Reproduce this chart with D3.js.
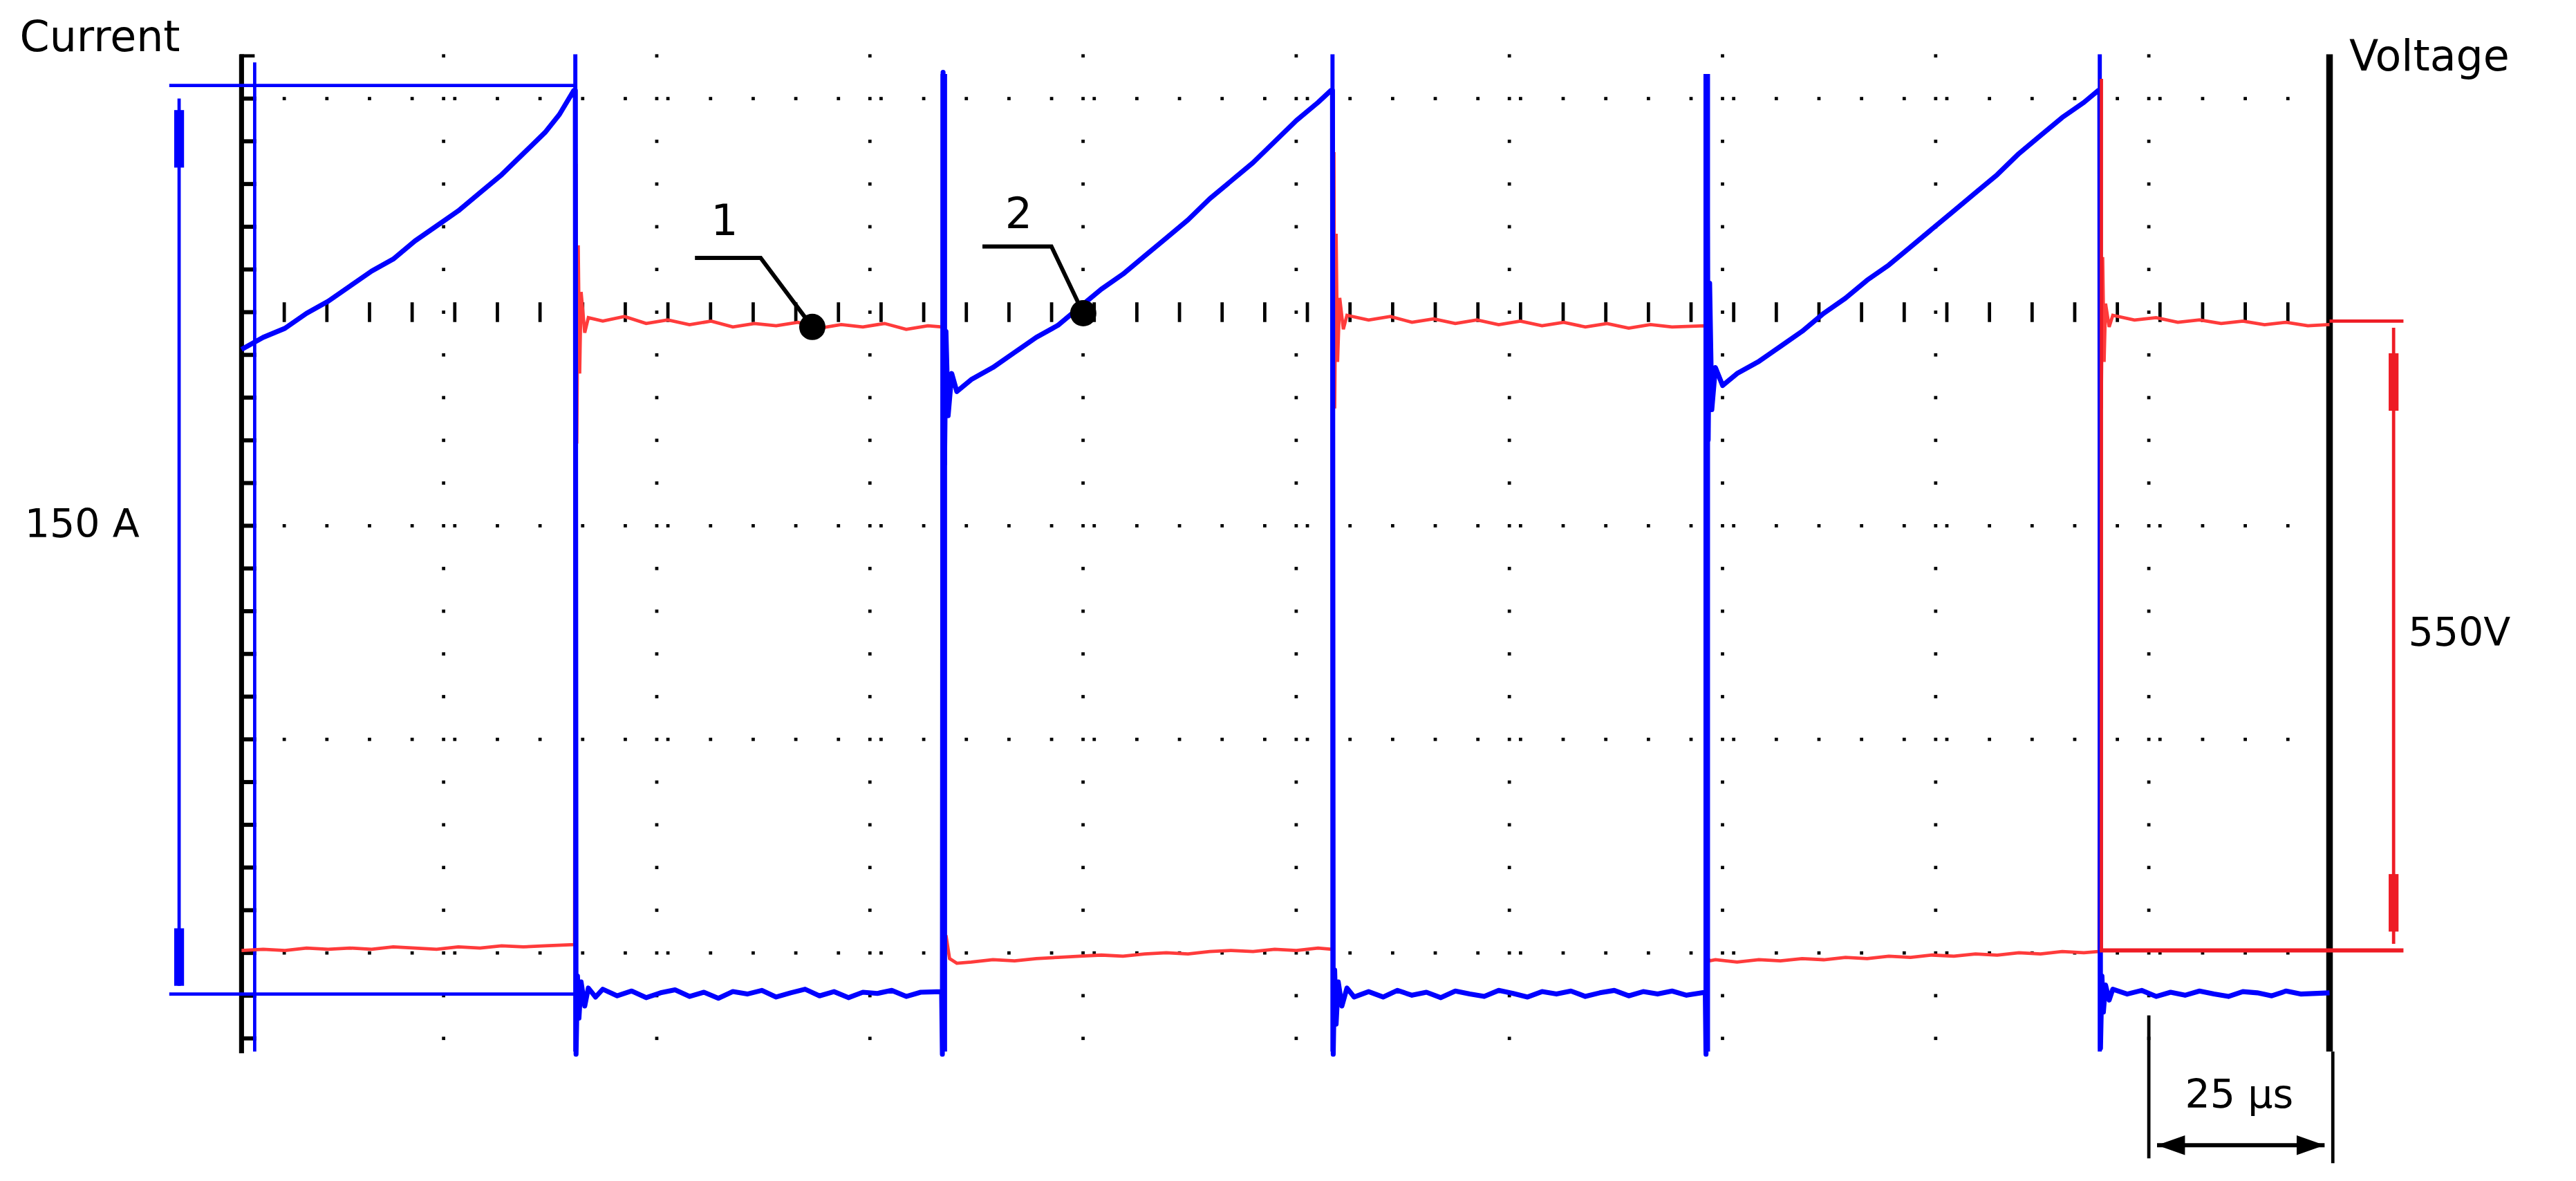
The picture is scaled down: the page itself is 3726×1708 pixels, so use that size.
<!DOCTYPE html>
<html><head><meta charset="utf-8">
<script src="https://cdn.jsdelivr.net/npm/d3@7"></script>
<style>body{margin:0;background:#fff}svg{display:block}text{font-family:"DejaVu Sans",sans-serif}</style>
</head><body>
<svg id="c" width="3726" height="1708" viewBox="0 0 1568 718.8"></svg>
<script>
// time in µs, current in A, voltage in V
const timeDomain = [0, 289];
const currentDomain = [0, 150];
const voltageDomain = [0, 540];
const switchTimes = [46.2, 97.2, 151, 202.8, 257.2];
const current = [
 [0,107],[3,109],[6,110.5],[9,113],[12,115],[15,117.5],[18,120],[21,122],[24,125],[27,127.5],[30,130],[33,133],[36,136],[39,139.5],[42,143],[44,146],[46,150],
 [46.2,150],[46.3,-10],[46.5,3],[46.7,-4],[47,2],[47.5,-2],[48,1],[49,-0.5],[50,0.8],[52,-0.3],[54,0.5],[56,-0.6],[58,0.2],[60,0.7],[62,-0.4],[64,0.3],[66,-0.7],[68,0.4],[70,0],[72,0.6],[74,-0.5],[76,0.2],[78,0.8],[80,-0.3],[82,0.4],[84,-0.6],[86,0.3],[88,0.1],[90,0.6],[92,-0.4],[94,0.3],[96.9,0.4],
 [97,-10],[97.1,153],[97.3,88],[97.5,110],[97.8,96],[98.3,103],[99,100],[101,102],[104,104],[107,106.5],[110,109],[113,111],[116,114],[119,117],[122,119.5],[125,122.5],[128,125.5],[131,128.5],[134,132],[137,135],[140,138],[143,141.5],[146,145],[149,148],[150.8,150],
 [151,150],[151.1,-10],[151.3,4],[151.5,-5],[151.8,2],[152.3,-2],[153,1],[154,-0.5],[156,0.4],[158,-0.5],[160,0.6],[162,-0.2],[164,0.3],[166,-0.6],[168,0.5],[170,0],[172,-0.4],[174,0.6],[176,0.1],[178,-0.5],[180,0.4],[182,0],[184,0.5],[186,-0.4],[188,0.2],[190,0.6],[192,-0.3],[194,0.4],[196,0],[198,0.5],[200,-0.2],[202.6,0.3],
 [202.7,-10],[202.8,150],[203,92],[203.2,118],[203.5,97],[204,104],[205,101],[207,103],[210,105],[213,107.5],[216,110],[219,113],[222,115.5],[225,118.5],[228,121],[231,124],[234,127],[237,130],[240,133],[243,136],[246,139.5],[249,142.5],[252,145.5],[255,148],[257,150],
 [257.2,150],[257.3,-9],[257.5,3],[257.7,-3],[258,1.5],[258.5,-1],[259,0.8],[261,0],[263,0.6],[265,-0.4],[267,0.3],[269,-0.2],[271,0.5],[273,0],[275,-0.4],[277,0.4],[279,0.2],[281,-0.3],[283,0.5],[285,0],[289,0.2]
];
const voltage = [
 [0,5],[3,6],[6,5],[9,7],[12,6],[15,7],[18,6],[21,8],[24,7],[27,6],[30,8],[33,7],[36,9],[39,8],[42,9],[46,10],
 [46.1,10],[46.2,540],[46.3,680],[46.4,440],[46.6,610],[46.8,500],[47,570],[47.5,535],[48,548],[50,545],[53,549],[56,543],[59,546],[62,542],[65,545],[68,540],[71,543],[74,541],[77,544],[80,539],[83,542],[86,540],[89,543],[92,538],[95,541],[97,540],
 [97.1,540],[97.2,0],[97.5,18],[98,-2],[99,-6],[101,-5],[104,-3],[107,-4],[110,-2],[113,-1],[116,0],[119,1],[122,0],[125,2],[128,3],[131,2],[134,4],[137,5],[140,4],[143,6],[146,5],[149,7],[150.9,6],
 [151,6],[151.1,540],[151.2,690],[151.3,470],[151.5,620],[151.7,510],[152,565],[152.5,538],[153,550],[156,546],[159,549],[162,544],[165,547],[168,543],[171,546],[174,542],[177,545],[180,541],[183,544],[186,540],[189,543],[192,539],[195,542],[198,540],[202.6,541],
 [202.7,541],[202.8,0],[203.2,-4],[204,-3],[207,-5],[210,-3],[213,-4],[216,-2],[219,-3],[222,-1],[225,-2],[228,0],[231,-1],[234,1],[237,0],[240,2],[243,1],[246,3],[249,2],[252,4],[255,3],[257,4],
 [257.1,4],[257.2,560],[257.3,690],[257.4,470],[257.6,600],[257.8,510],[258,560],[258.5,540],[259,550],[262,546],[265,548],[268,544],[271,546],[274,543],[277,545],[280,542],[283,544],[286,541],[289,542]
];
const markers = [{label:"1", t:79, v:540}, {label:"2", t:116.5, i:113}];
const texts = {current:"Current", voltage:"Voltage", amp:"150 A", volt:"550V", time:"25 µs"};

const svg = d3.select("#c");
const x = d3.scaleLinear().domain(timeDomain).range([147, 1418]);
const yI = d3.scaleLinear().domain(currentDomain).range([605, 55]);
const yV = d3.scaleLinear().domain(voltageDomain).range([582, 199]);
const BLUE = "#0000ff", RED = "#ff3b3b", RED2 = "#ee1c25";

// grid
const cols = d3.range(0, 9).map(k => 270 + k * 129.75);
const rows = [60, 190, 320, 450, 580];
const g = svg.append("g");
rows.forEach(r => { for (let xx = 147 + 26; xx < 1418; xx += 25.95) if (r !== 190) g.append("rect").attr("x", xx - 1).attr("y", r - 1).attr("width", 2).attr("height", 2); });
cols.forEach(c => { for (let yy = 34; yy < 640; yy += 26) g.append("rect").attr("x", c - 1).attr("y", yy - 1).attr("width", 2).attr("height", 2); });
for (let xx = 147 + 26; xx < 1418; xx += 25.95) g.append("line").attr("x1", xx).attr("x2", xx).attr("y1", 184).attr("y2", 196).attr("stroke", "#000").attr("stroke-width", 2);
// left axis
svg.append("line").attr("x1", 147).attr("x2", 147).attr("y1", 33).attr("y2", 641).attr("stroke", "#000").attr("stroke-width", 3);
svg.append("line").attr("x1", 146).attr("x2", 155).attr("y1", 34).attr("y2", 34).attr("stroke", "#000").attr("stroke-width", 2);
for (let yy = 60; yy < 640; yy += 26) svg.append("line").attr("x1", 147).attr("x2", 156).attr("y1", yy).attr("y2", yy).attr("stroke", "#000").attr("stroke-width", 2.5);
// right voltage axis
svg.append("line").attr("x1", 1418).attr("x2", 1418).attr("y1", 33).attr("y2", 640).attr("stroke", "#000").attr("stroke-width", 4);

// current bracket
svg.append("line").attr("x1", 155).attr("x2", 155).attr("y1", 38).attr("y2", 640).attr("stroke", BLUE).attr("stroke-width", 2);
[yI(150) - 3, yI(0)].forEach(yy => svg.append("line").attr("x1", 103).attr("x2", x(46.2)).attr("y1", yy).attr("y2", yy).attr("stroke", BLUE).attr("stroke-width", 2));
svg.append("line").attr("x1", 109).attr("x2", 109).attr("y1", yI(150) + 5).attr("y2", yI(0) - 5).attr("stroke", BLUE).attr("stroke-width", 2);
svg.append("rect").attr("x", 106).attr("y", 67).attr("width", 6).attr("height", 35).attr("fill", BLUE);
svg.append("rect").attr("x", 106).attr("y", 565).attr("width", 6).attr("height", 35).attr("fill", BLUE);

// signals
const lineI = d3.line().x(d => x(d[0])).y(d => yI(d[1]));
const lineV = d3.line().x(d => x(d[0])).y(d => yV(d[1]));
svg.append("path").attr("d", lineV(voltage)).attr("fill", "none").attr("stroke", RED).attr("stroke-width", 2);
svg.append("path").attr("d", lineI(current)).attr("fill", "none").attr("stroke", BLUE).attr("stroke-width", 3).attr("stroke-linejoin", "round");
switchTimes.forEach((t, k) => svg.append("line").attr("x1", x(t)).attr("x2", x(t)).attr("y1", k % 2 ? 45 : 33).attr("y2", 640).attr("stroke", BLUE).attr("stroke-width", k % 2 ? 4 : 2.5));

// voltage bracket
const vTop = yV(545), vBot = yV(5);
svg.append("line").attr("x1", 1418).attr("x2", 1463).attr("y1", vTop).attr("y2", vTop).attr("stroke", RED2).attr("stroke-width", 2);
svg.append("line").attr("x1", x(257.2)).attr("x2", 1463).attr("y1", vBot).attr("y2", vBot).attr("stroke", RED2).attr("stroke-width", 2.5);
svg.append("line").attr("x1", x(257.2) + 1).attr("x2", x(257.2) + 1).attr("y1", 48).attr("y2", vBot).attr("stroke", RED2).attr("stroke-width", 2);
svg.append("line").attr("x1", 1457).attr("x2", 1457).attr("y1", vTop + 4).attr("y2", vBot - 4).attr("stroke", RED2).attr("stroke-width", 2);
svg.append("rect").attr("x", 1454).attr("y", 215).attr("width", 6).attr("height", 35).attr("fill", RED2);
svg.append("rect").attr("x", 1454).attr("y", 532).attr("width", 6).attr("height", 35).attr("fill", RED2);

// markers
const m1 = [x(markers[0].t), yV(markers[0].v)], m2 = [x(markers[1].t), yI(markers[1].i)];
svg.append("path").attr("d", `M423,157 L463,157 L${m1[0]},${m1[1]}`).attr("fill", "none").attr("stroke", "#000").attr("stroke-width", 2.5);
svg.append("circle").attr("cx", m1[0]).attr("cy", m1[1]).attr("r", 8).attr("fill", "#000");
svg.append("text").attr("x", 441).attr("y", 143).attr("text-anchor", "middle").attr("font-size", 26).text(markers[0].label);
svg.append("path").attr("d", `M598,150 L640,150 L${m2[0]},${m2[1]}`).attr("fill", "none").attr("stroke", "#000").attr("stroke-width", 2.5);
svg.append("circle").attr("cx", m2[0]).attr("cy", m2[1]).attr("r", 8).attr("fill", "#000");
svg.append("text").attr("x", 620).attr("y", 139).attr("text-anchor", "middle").attr("font-size", 26).text(markers[1].label);

// time bracket
svg.append("line").attr("x1", 1308).attr("x2", 1308).attr("y1", 618).attr("y2", 705).attr("stroke", "#000").attr("stroke-width", 2);
svg.append("line").attr("x1", 1420).attr("x2", 1420).attr("y1", 640).attr("y2", 708).attr("stroke", "#000").attr("stroke-width", 2);
svg.append("line").attr("x1", 1313).attr("x2", 1415).attr("y1", 697).attr("y2", 697).attr("stroke", "#000").attr("stroke-width", 2.5);
svg.append("path").attr("d", "M1313,697 L1330,691 L1330,703 Z M1415,697 L1398,691 L1398,703 Z").attr("fill", "#000");
svg.append("text").attr("x", 1363).attr("y", 674).attr("text-anchor", "middle").attr("font-size", 24).text(texts.time);

// labels
svg.append("text").attr("x", 12).attr("y", 31).attr("font-size", 26).text(texts.current);
svg.append("text").attr("x", 1430).attr("y", 43).attr("font-size", 26).text(texts.voltage);
svg.append("text").attr("x", 15).attr("y", 327).attr("font-size", 24).text(texts.amp);
svg.append("text").attr("x", 1466).attr("y", 393).attr("font-size", 24).text(texts.volt);
</script></body></html>
